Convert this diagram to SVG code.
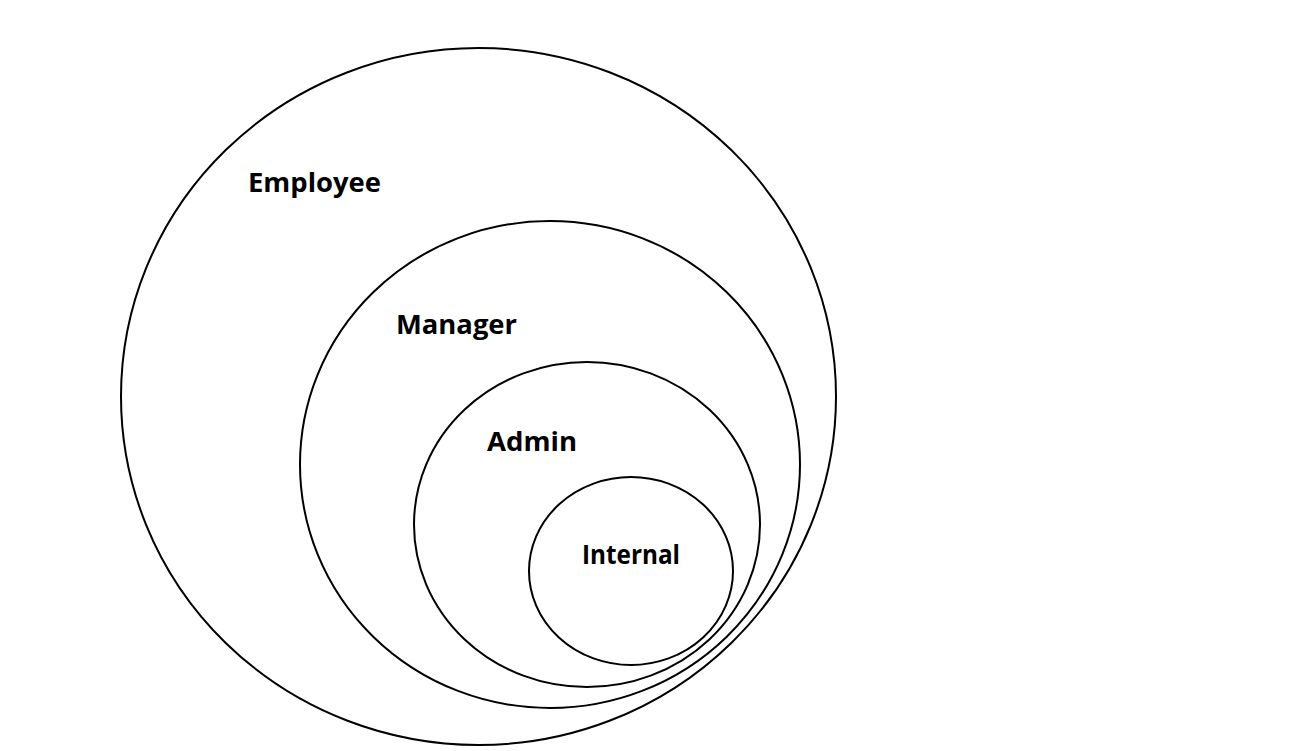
<svg xmlns="http://www.w3.org/2000/svg" width="1298" height="751" viewBox="0 0 1298 751">
<style>
.ring{fill:none;stroke:#000;stroke-width:2}
.lbl{font-family:"Open Sans","Liberation Sans",sans-serif;font-weight:bold;font-size:27px;fill:#000}
</style>
<rect width="1298" height="751" fill="#fff"/>
<g id="employee">
<ellipse class="ring" cx="478.5" cy="396.5" rx="357.5" ry="348.5"/>
<text class="lbl" x="248" y="192" textLength="133" lengthAdjust="spacingAndGlyphs">Employee</text>
</g>
<g id="manager">
<ellipse class="ring" cx="550" cy="464.5" rx="250" ry="243.5"/>
<text class="lbl" x="396" y="334" textLength="121" lengthAdjust="spacingAndGlyphs">Manager</text>
</g>
<g id="admin">
<ellipse class="ring" cx="587" cy="524.5" rx="173" ry="162.5"/>
<text class="lbl" x="487" y="451" textLength="90" lengthAdjust="spacingAndGlyphs">Admin</text>
</g>
<g id="internal">
<ellipse class="ring" cx="631" cy="571" rx="102" ry="94"/>
<text class="lbl" x="582" y="564" textLength="98" lengthAdjust="spacingAndGlyphs">Internal</text>
</g>
<g id="connectors"/>
</svg>
